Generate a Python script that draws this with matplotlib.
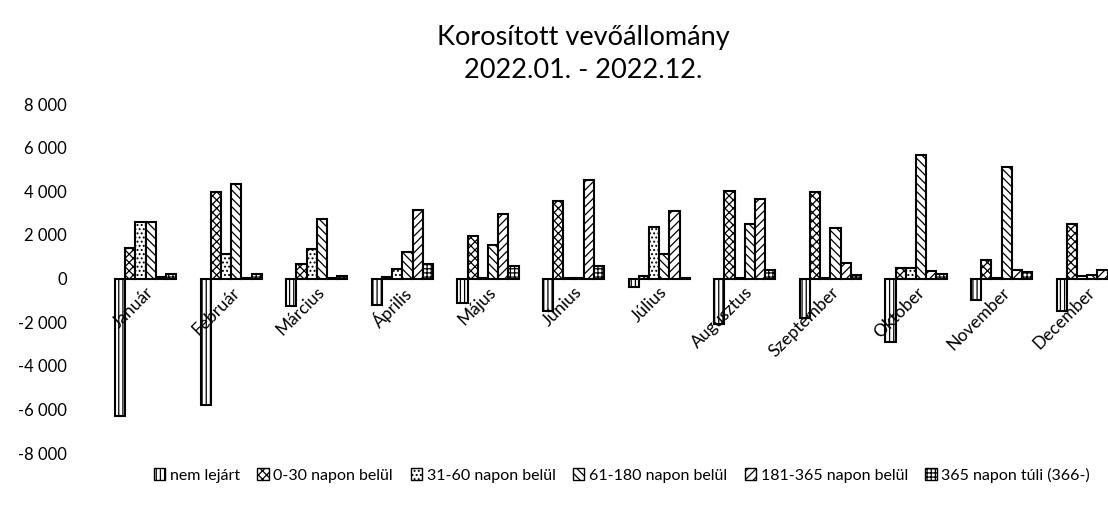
import numpy as np
import matplotlib.pyplot as plt
from matplotlib.patches import Patch

# data
months = ['Január', 'Február', 'Március', 'Április', 'Május', 'Június', 'Július',
          'Augusztus', 'Szeptember', 'Október', 'November', 'December']
series_names = ['nem lejárt', '0-30 napon belül', '31-60 napon belül', '61-180 napon belül',
                '181-365 napon belül', '365 napon túli (366-)']
nem_lejart = [-6300, -5800, -1250, -1200, -1100, -1500, -400, -2100, -1800, -2900, -1000, -1500]
d0_30 = [1400, 3950, 650, 80, 1950, 3550, 100, 4000, 3950, 500, 850, 2500]
d31_60 = [2600, 1150, 1350, 450, 20, 30, 2350, 20, 20, 500, 20, 100]
d61_180 = [2600, 4350, 2750, 1200, 1550, 20, 1150, 2500, 2300, 5650, 5100, 150]
d181_365 = [80, 20, 40, 3150, 2950, 4500, 3100, 3650, 700, 350, 400, 400]
d365 = [200, 230, 120, 650, 600, 600, 30, 400, 150, 200, 300, 300]
yticks = [-8000, -6000, -4000, -2000, 0, 2000, 4000, 6000, 8000]

series = [nem_lejart, d0_30, d31_60, d61_180, d181_365, d365]
hatches = ['||||', 'xxxx', '....', '\\\\\\\\', '////', '++++']

plt.rcParams['font.family'] = ['Lato', 'DejaVu Sans']
plt.rcParams['hatch.linewidth'] = 0.9

fig = plt.figure(figsize=(11.08, 5.07), dpi=100)
ax = fig.add_axes([0.0928, 0.1065, 0.927, 0.688])

x = np.arange(len(months))
w = 0.119
for k, vals in enumerate(series):
    ax.bar(x + (k - 2.5) * w, vals, w, facecolor='white', edgecolor='black',
           linewidth=1.5, hatch=hatches[k], label=series_names[k])

ax.set_xlim(-0.5, 11.5)
ax.set_ylim(-8000, 8000)
# axis crosses at zero, so the month labels sit just under the zero line
ax.spines['bottom'].set_position(('data', 0))
for s in ['top', 'right', 'left', 'bottom']:
    ax.spines[s].set_color('none')
ax.set_yticks(yticks)
ax.set_yticklabels([f'{v:,}'.replace(',', ' ') for v in yticks], fontsize=12)
ax.set_xticks(x)
ax.set_xticklabels(months, fontsize=12.5)
plt.setp(ax.get_xticklabels(), rotation=45, ha='right', va='top', rotation_mode='anchor')
ax.tick_params(axis='both', length=0)
ax.tick_params(axis='x', pad=4)
ax.tick_params(axis='y', pad=26)

fig.text(583 / 1108, 1 - 38 / 507, 'Korosított vevőállomány', ha='center', va='center', fontsize=19.5)
fig.text(583 / 1108, 1 - 70 / 507, '2022.01. - 2022.12.', ha='center', va='center', fontsize=19.5)

handles = [Patch(facecolor='white', edgecolor='black', hatch=hatches[k], linewidth=1.0)
           for k in range(len(series))]
fig.legend(handles, series_names, loc='center', bbox_to_anchor=(622 / 1108, 1 - 475 / 507),
           ncol=6, frameon=False, fontsize=11.5, handlelength=0.7, handleheight=0.7,
           handletextpad=0.3, columnspacing=1.1)

fig.savefig('out.png', dpi=100)
